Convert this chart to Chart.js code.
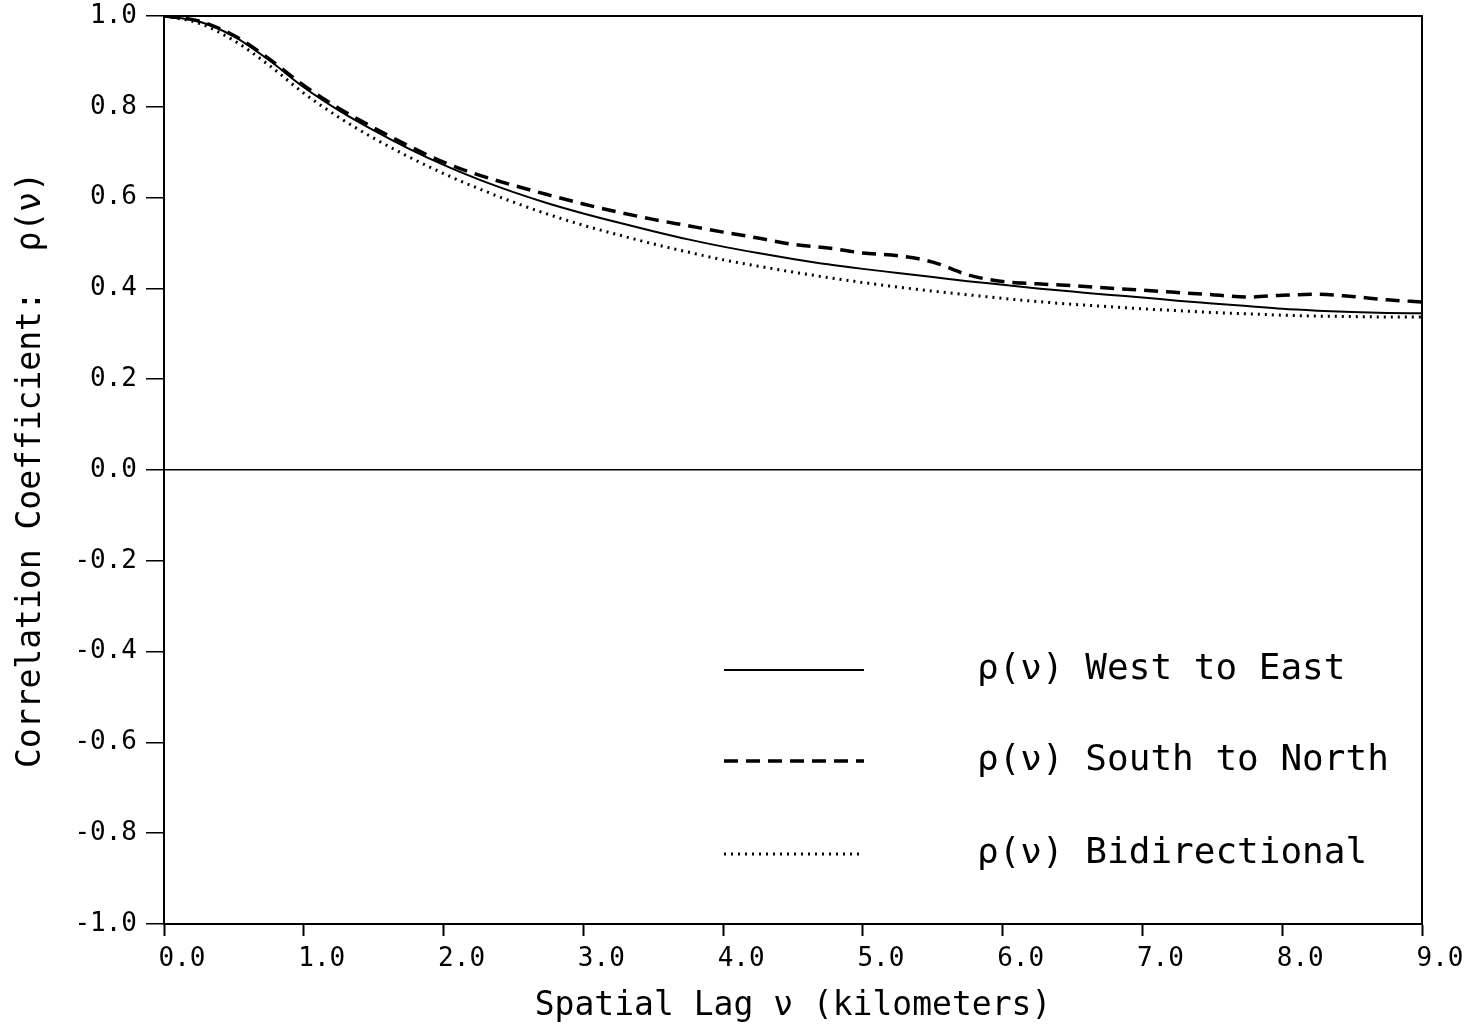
<!DOCTYPE html>
<html>
<head>
<meta charset="utf-8">
<script src="https://cdn.jsdelivr.net/npm/chart.js@4.4.1/dist/chart.umd.min.js"></script>
<style>
  html, body { margin: 0; padding: 0; background: #fff; }
  #wrap { width: 1466px; height: 1030px; }
</style>
</head>
<body>
<div id="wrap"><canvas id="corrChart"></canvas></div>
<script>
// spatial lag in km (every 0.25 km)
const lagKm = [0.00, 0.25, 0.50, 0.75, 1.00, 1.25, 1.50, 1.75, 2.00, 2.25, 2.50, 2.75,
               3.00, 3.25, 3.50, 3.75, 4.00, 4.25, 4.50, 4.75, 5.00, 5.25, 5.50, 5.75,
               6.00, 6.25, 6.50, 6.75, 7.00, 7.25, 7.50, 7.75, 8.00, 8.25, 8.50, 8.75, 9.00];

const westEast = [1.000, 0.988, 0.955, 0.903, 0.843, 0.792, 0.748, 0.708, 0.672, 0.640, 0.612, 0.587,
                  0.565, 0.545, 0.526, 0.508, 0.492, 0.478, 0.465, 0.453, 0.443, 0.434, 0.425, 0.416,
                  0.408, 0.400, 0.393, 0.386, 0.380, 0.373, 0.367, 0.361, 0.355, 0.351, 0.348, 0.346, 0.345];

const southNorth = [1.000, 0.989, 0.957, 0.906, 0.847, 0.797, 0.754, 0.714, 0.678, 0.650, 0.627, 0.606,
                    0.586, 0.568, 0.552, 0.538, 0.524, 0.511, 0.497, 0.489, 0.478, 0.472, 0.458, 0.430,
                    0.415, 0.410, 0.406, 0.401, 0.396, 0.391, 0.386, 0.381, 0.385, 0.387, 0.382, 0.375, 0.370];

const bidirectional = [1.000, 0.984, 0.946, 0.892, 0.830, 0.777, 0.731, 0.690, 0.653, 0.620, 0.590, 0.563,
                       0.539, 0.518, 0.498, 0.480, 0.463, 0.449, 0.436, 0.424, 0.413, 0.403, 0.394, 0.386,
                       0.378, 0.371, 0.365, 0.360, 0.355, 0.351, 0.347, 0.344, 0.341, 0.339, 0.338, 0.337, 0.337];

const xTickValues = [0.0, 1.0, 2.0, 3.0, 4.0, 5.0, 6.0, 7.0, 8.0, 9.0];
const yTickValues = [-1.0, -0.8, -0.6, -0.4, -0.2, 0.0, 0.2, 0.4, 0.6, 0.8, 1.0];

const seriesLabels = ['\u03C1(\u03BD) West to East', '\u03C1(\u03BD) South to North', '\u03C1(\u03BD) Bidirectional'];

const FONT = '"DejaVu Sans Mono", monospace';

function toPoints(values) {
    return lagKm.map(function (x, i) { return { x: x, y: values[i] }; });
}

// box round the plot area
const framePlugin = {
    id: 'frame',
    afterDraw: function (chart) {
        const a = chart.chartArea;
        const c = chart.ctx;
        c.save();
        c.strokeStyle = '#000';
        c.lineWidth = 2;
        c.strokeRect(a.left, a.top, a.right - a.left, a.bottom - a.top);
        c.restore();
    }
};

// legend inside the plot, drawn from the dataset styles
const innerLegend = {
    id: 'innerLegend',
    afterDraw: function (chart, args, opts) {
        const c = chart.ctx;
        c.save();
        chart.data.datasets.forEach(function (ds, i) {
            const y = opts.rows[i];
            c.strokeStyle = ds.borderColor;
            c.lineWidth = ds.borderWidth;
            c.setLineDash(ds.borderDash || []);
            c.beginPath();
            c.moveTo(opts.lineStart, y);
            c.lineTo(opts.lineEnd, y);
            c.stroke();
            c.setLineDash([]);
            c.fillStyle = '#000';
            c.font = opts.fontSize + 'px ' + FONT;
            c.textBaseline = 'middle';
            c.textAlign = 'left';
            c.fillText(ds.label, opts.textX, y);
        });
        c.restore();
    }
};

new Chart(document.getElementById('corrChart').getContext('2d'), {
    type: 'line',
    data: {
        datasets: [{
            label: seriesLabels[0],
            data: toPoints(westEast),
            borderColor: '#000',
            borderWidth: 2,
            borderDash: []
        }, {
            label: seriesLabels[1],
            data: toPoints(southNorth),
            borderColor: '#000',
            borderWidth: 3.5,
            borderDash: [14, 8]
        }, {
            label: seriesLabels[2],
            data: toPoints(bidirectional),
            borderColor: '#000',
            borderWidth: 3,
            borderDash: [2, 5]
        }]
    },
    options: {
        responsive: true,
        maintainAspectRatio: false,
        animation: false,
        elements: {
            point: { radius: 0 },
            line: { tension: 0.4, cubicInterpolationMode: 'monotone' }
        },
        layout: { padding: { left: 4, right: 44, top: 16, bottom: 2 } },
        plugins: {
            legend: { display: false },
            tooltip: { enabled: false },
            innerLegend: {
                rows: [670, 761, 854],
                lineStart: 724,
                lineEnd: 864,
                textX: 977,
                fontSize: 36
            }
        },
        scales: {
            x: {
                type: 'linear',
                min: 0,
                max: 9,
                afterBuildTicks: function (scale) {
                    scale.ticks = xTickValues.map(function (v) { return { value: v }; });
                },
                afterFit: function (scale) {
                    scale.height = 104;
                    scale.paddingLeft = 0;
                    scale.paddingRight = 0;
                },
                border: { display: true, color: '#000', width: 2 },
                grid: {
                    drawOnChartArea: false,
                    tickColor: '#000',
                    tickLength: 12,
                    tickWidth: 2
                },
                ticks: {
                    color: '#000',
                    font: { family: FONT, size: 26 },
                    padding: 8,
                    labelOffset: 18,
                    maxRotation: 0,
                    callback: function (v) { return Number(v).toFixed(1); }
                },
                title: {
                    display: true,
                    text: 'Spatial Lag \u03BD (kilometers)',
                    color: '#000',
                    font: { family: FONT, size: 33 },
                    padding: { top: 2, bottom: 2 }
                }
            },
            y: {
                min: -1,
                max: 1,
                afterBuildTicks: function (scale) {
                    scale.ticks = yTickValues.map(function (v) { return { value: v }; });
                },
                afterFit: function (scale) {
                    scale.width = 160;
                    scale.paddingTop = 0;
                    scale.paddingBottom = 0;
                },
                border: { display: true, color: '#000', width: 2 },
                grid: {
                    drawOnChartArea: true,
                    color: function (ctx) {
                        return ctx.tick && ctx.tick.value === 0 ? '#000' : 'rgba(0,0,0,0)';
                    },
                    lineWidth: 1.5,
                    tickColor: '#000',
                    tickLength: 18,
                    tickWidth: 1.5
                },
                ticks: {
                    color: '#000',
                    font: { family: FONT, size: 26 },
                    padding: 9,
                    callback: function (v) { return Number(v).toFixed(1); }
                },
                title: {
                    display: true,
                    text: 'Correlation Coefficient:  \u03C1(\u03BD)',
                    color: '#000',
                    font: { family: FONT, size: 33 },
                    padding: { top: 8, bottom: 4 }
                }
            }
        }
    },
    plugins: [framePlugin, innerLegend]
});
</script>
</body>
</html>
